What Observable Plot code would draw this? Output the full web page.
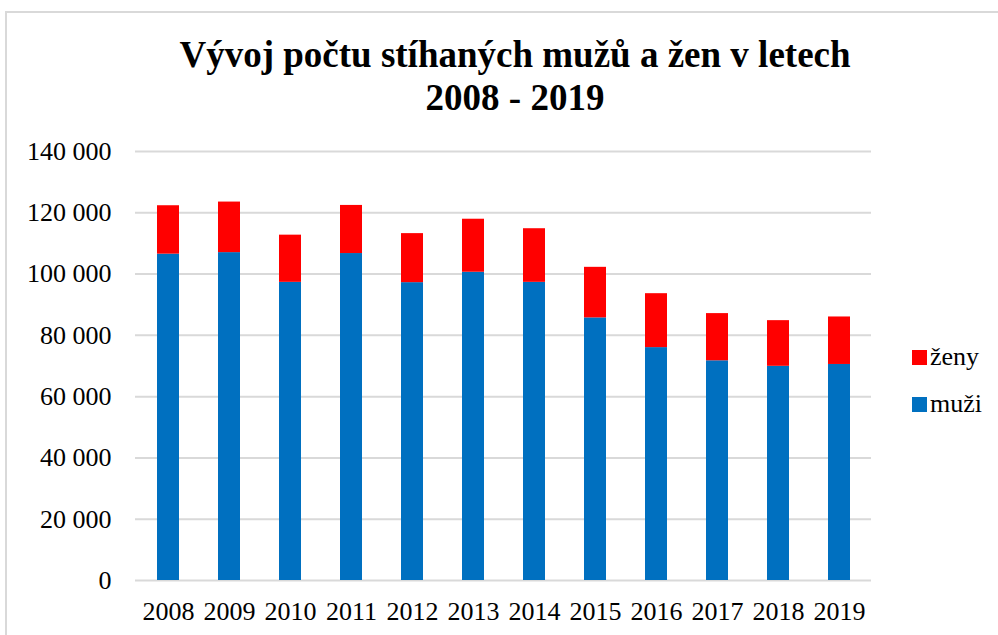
<!DOCTYPE html>
<html><head><meta charset="utf-8">
<script src="https://cdn.jsdelivr.net/npm/d3@7"></script>
<script src="https://cdn.jsdelivr.net/npm/@observablehq/plot@0.6"></script>
<style>
body{margin:0;background:#fff;}
#wrap{position:relative;width:998px;height:635px;overflow:hidden;background:#fff;font-family:"Liberation Serif","DejaVu Serif",serif;}
#frame{position:absolute;left:5px;top:11px;width:1040px;height:660px;border:2px solid #d9d9d9;box-sizing:border-box;}
#title{position:absolute;left:15px;width:1000px;top:33px;text-align:center;font-weight:bold;font-size:37px;line-height:43px;color:#000;}
#chart{position:absolute;left:0;top:130px;}
.leg{position:absolute;left:912px;font-size:26px;color:#000;display:flex;align-items:center;}
.leg span.sw{display:inline-block;width:15px;height:15px;margin-right:3px;}
</style></head>
<body>
<div id="wrap">
<div id="frame"></div>
<div id="title">Vývoj počtu stíhaných mužů a žen v letech<br>2008 - 2019</div>
<div id="chart"></div>
<div class="leg" style="top:342px"><span class="sw" style="background:#FF0000"></span>ženy</div>
<div class="leg" style="top:389px"><span class="sw" style="background:#0070C0"></span>muži</div>
</div>
<script>
const years = ["2008","2009","2010","2011","2012","2013","2014","2015","2016","2017","2018","2019"];
const muzi = [106500,107000,97300,106700,97200,100600,97300,85700,76000,71700,69900,70500];
const zeny = [15800,16500,15400,15700,16000,17300,17500,16500,17600,15400,14900,15500];
const series = ["muži","ženy"];
const colors = ["#0070C0","#FF0000"];
const yTicks = [0,20000,40000,60000,80000,100000,120000,140000];

const rows = [];
years.forEach((y,i)=>{ rows.push({year:y, sex:series[0], value:muzi[i]}); });
years.forEach((y,i)=>{ rows.push({year:y, sex:series[1], value:zeny[i]}); });

const fmt = d => d3.format(",")(d).replace(/,/g," ");

const plot = Plot.plot({
  width: 998,
  height: 505,
  marginLeft: 135,
  marginRight: 127,
  marginTop: 21,
  marginBottom: 55,
  style: {fontFamily: "'Liberation Serif','DejaVu Serif',serif", fontSize: "26px", color: "#000", background: "transparent"},
  x: {domain: years, paddingInner: 0.64, paddingOuter: 0.32, label: null, tickSize: 0, tickPadding: 21},
  y: {domain: [0,140000], ticks: yTicks, tickFormat: fmt, label: null, tickSize: 0, tickPadding: 24},
  color: {domain: series, range: colors},
  marks: [
    Plot.ruleY(yTicks, {stroke: "#d9d9d9", strokeWidth: 2}),
    Plot.barY(rows, {x: "year", y: "value", fill: "sex", order: series}),
  ]
});
document.getElementById("chart").appendChild(plot);
</script>
</body></html>
